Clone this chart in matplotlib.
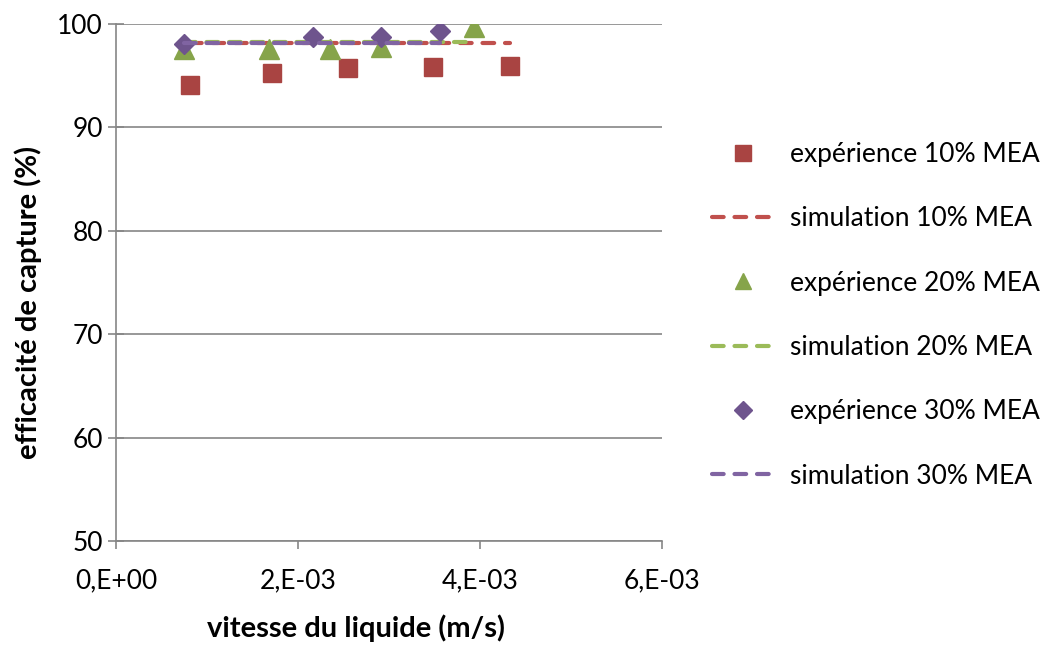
import matplotlib
matplotlib.use("Agg")
import matplotlib.pyplot as plt

x_exp10 = [0.00081, 0.00171, 0.00255, 0.00348, 0.00433]
y_exp10 = [94.1, 95.3, 95.7, 95.8, 95.9]
x_exp20 = [0.00075, 0.00168, 0.00235, 0.00291, 0.00393]
y_exp20 = [97.6, 97.6, 97.6, 97.8, 99.7]
x_exp30 = [0.00075, 0.00216, 0.00291, 0.00356]
y_exp30 = [98.1, 98.7, 98.7, 99.3]
y_sim10 = [98.2, 98.2, 98.2, 98.2, 98.2]
y_sim20 = [98.3, 98.3, 98.3, 98.3, 98.3]
y_sim30 = [98.15, 98.15, 98.15, 98.15]

labels = ["expérience 10% MEA", "simulation 10% MEA", "expérience 20% MEA",
          "simulation 20% MEA", "expérience 30% MEA", "simulation 30% MEA"]
xticks = [0, 0.002, 0.004, 0.006]
xticklabels = ["0,E+00", "2,E-03", "4,E-03", "6,E-03"]
yticks = [50, 60, 70, 80, 90, 100]

red, green, purple = "#C0504D", "#9BBB59", "#8064A2"
red_m, green_m, purple_m = "#A94442", "#86A44A", "#6E548D"

plt.rcParams['font.family'] = ['Lato', 'DejaVu Sans']
W, H = 1044, 645
fig = plt.figure(figsize=(W / 100, H / 100), dpi=100)
ax = fig.add_axes([116 / W, 1 - 541 / H, (662 - 116) / W, (541 - 24) / H])

dash = (0, (2.8, 2.6))
ax.plot(x_exp10, y_exp10, ls="none", marker="s", ms=13.5, color=red_m, label=labels[0])
ax.plot(x_exp10, y_sim10, ls=dash, lw=3, color=red, label=labels[1], dash_capstyle='round')
ax.plot(x_exp20, y_exp20, ls="none", marker="^", ms=14, color=green_m, label=labels[2])
ax.plot(x_exp20, y_sim20, ls=dash, lw=3, color=green, label=labels[3], dash_capstyle='round')
ax.plot(x_exp30, y_exp30, ls="none", marker="D", ms=10.5, color=purple_m, label=labels[4])
ax.plot(x_exp30, y_sim30, ls=dash, lw=3, color=purple, label=labels[5], dash_capstyle='round')

ax.set_xlim(0, 0.006)
ax.set_ylim(50, 100)
ax.set_xticks(xticks)
ax.set_xticklabels(xticklabels)
ax.set_yticks(yticks)
ax.yaxis.grid(True, color="#868686", lw=1.2)
ax.set_axisbelow(True)
for s in ["top", "right"]:
    ax.spines[s].set_visible(False)
for s in ["left", "bottom"]:
    ax.spines[s].set_color("#868686")
    ax.spines[s].set_linewidth(1.2)
ax.tick_params(axis="y", direction="inout", length=11, width=1.2, color="#868686",
               labelsize=19, pad=4)
ax.tick_params(axis="x", direction="out", length=6, width=1.2, color="#868686",
               labelsize=19, pad=14)
ax.set_xlabel("vitesse du liquide (m/s)", fontsize=21, fontweight="bold")
ax.set_ylabel("efficacité de capture (%)", fontsize=21, fontweight="bold")
ax.xaxis.set_label_coords(356 / W, 1 - 628 / H, transform=fig.transFigure)
ax.yaxis.set_label_coords(28 / W, 1 - 302 / H, transform=fig.transFigure)
ax.xaxis.label.set_va("center")
ax.yaxis.label.set_va("center")

leg = ax.legend(loc="upper left", bbox_to_anchor=(712 / W, 1 - 142 / H), bbox_transform=fig.transFigure,
                frameon=False, fontsize=19, labelspacing=1.49, handlelength=2.35,
                handletextpad=0.6, borderpad=0, borderaxespad=0, markerscale=0.85)
fig.savefig("out.png", dpi=100)
